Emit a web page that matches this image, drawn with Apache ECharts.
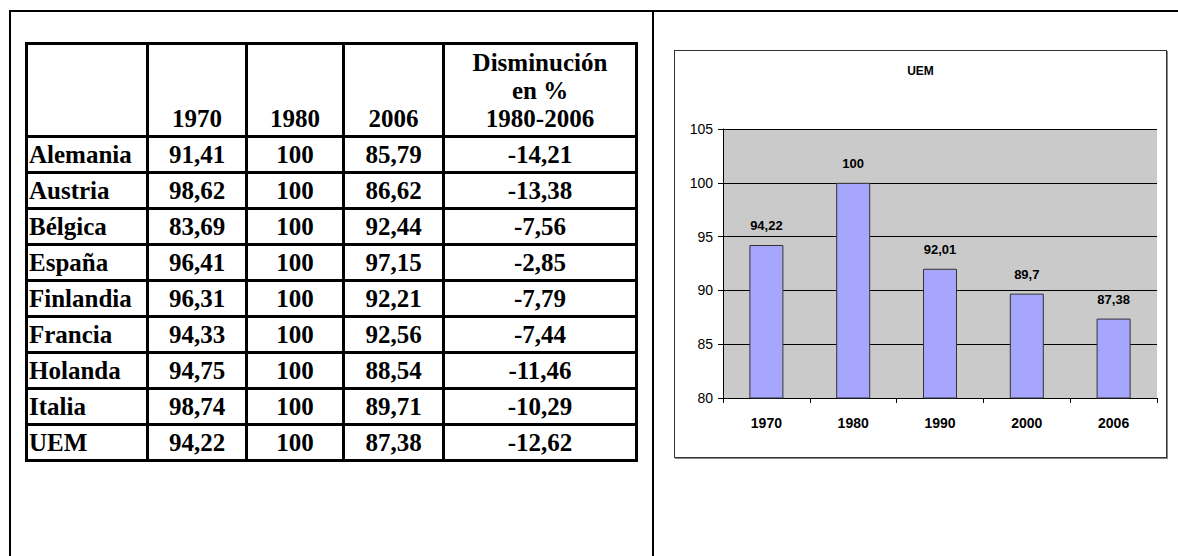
<!DOCTYPE html>
<html>
<head>
<meta charset="utf-8">
<script src="https://cdn.jsdelivr.net/npm/echarts@6/dist/echarts.min.js"></script>
<style>
  body { margin: 0; background: #fff; width: 1178px; height: 556px; overflow: hidden; position: relative; }
  #frame { position: absolute; left: 9px; top: 10px; width: 1169px; height: 546px; border-top: 2px solid #000; border-left: 2px solid #000; box-sizing: border-box; }
  #divider { position: absolute; left: 652px; top: 10px; width: 2px; height: 546px; background: #000; }
  #tabla { position: absolute; left: 25px; top: 42px; border-collapse: collapse; table-layout: fixed;
    font-family: "Liberation Serif", "Times New Roman", serif; font-weight: bold; font-size: 25px; color: #000; }
  #tabla td { border: 3px solid #000; padding: 0 3px; height: 33px; line-height: 28px; text-align: center; white-space: nowrap; }
  #tabla tr.head td { height: 88px; vertical-align: bottom; padding-bottom: 2px; }
  #tabla td.name { text-align: left; padding-left: 1px; }
  #main { position: absolute; left: 674px; top: 50px; width: 493px; height: 408px; border: 1px solid #333; box-sizing: border-box; box-shadow: 1px 1px 0 #888; }
</style>
</head>
<body>
<div id="frame"></div>
<div id="divider"></div>
<table id="tabla">
  <colgroup><col style="width:121px"><col style="width:99px"><col style="width:97px"><col style="width:100px"><col style="width:193px"></colgroup>
  <tbody id="cuerpo"></tbody>
</table>
<div id="main"></div>
<script>
  // datos de la tabla
  let paises = ['Alemania', 'Austria', 'Bélgica', 'España', 'Finlandia', 'Francia', 'Holanda', 'Italia', 'UEM'];
  let v1970 = ['91,41', '98,62', '83,69', '96,41', '96,31', '94,33', '94,75', '98,74', '94,22'];
  let v1980 = ['100', '100', '100', '100', '100', '100', '100', '100', '100'];
  let v2006 = ['85,79', '86,62', '92,44', '97,15', '92,21', '92,56', '88,54', '89,71', '87,38'];
  let disminucion = ['-14,21', '-13,38', '-7,56', '-2,85', '-7,79', '-7,44', '-11,46', '-10,29', '-12,62'];
  let cabecera = ['', '1970', '1980', '2006', 'Disminución<br>en %<br>1980-2006'];

  // datos del grafico
  let anios = ['1970', '1980', '1990', '2000', '2006'];
  let valoresUEM = [94.22, 100, 92.01, 89.7, 87.38];

  let html = '<tr class="head">' + cabecera.map(function (c) { return '<td>' + c + '</td>'; }).join('') + '</tr>';
  paises.forEach(function (p, i) {
    html += '<tr><td class="name">' + p + '</td><td>' + v1970[i] + '</td><td>' + v1980[i] +
      '</td><td>' + v2006[i] + '</td><td>' + disminucion[i] + '</td></tr>';
  });
  document.getElementById('cuerpo').innerHTML = html;

  let chart = echarts.init(document.getElementById('main'), null, { renderer: 'svg' });
  let coma = function (v) { return String(v).replace('.', ','); };

  let option = {
    animation: false,
    textStyle: { fontFamily: 'Liberation Sans, Arial, sans-serif' },
    title: {
      text: 'UEM',
      left: 'center',
      top: 9,
      textStyle: { fontSize: 12, fontWeight: 'bold', color: '#000' }
    },
    grid: {
      left: 48, right: 9, top: 78, bottom: 59,
      show: true, backgroundColor: '#CACACA', borderWidth: 0
    },
    xAxis: {
      type: 'category',
      data: anios,
      axisLine: { lineStyle: { color: '#000', width: 1 } },
      axisTick: { show: true, inside: false, length: 5, alignWithLabel: false, lineStyle: { color: '#000' } },
      axisLabel: { margin: 18, fontSize: 14, fontWeight: 'bold', color: '#000' }
    },
    yAxis: {
      type: 'value',
      min: 80, max: 105, interval: 5,
      axisLine: { show: true, lineStyle: { color: '#000', width: 1 } },
      axisTick: { show: true, length: 5, lineStyle: { color: '#000' } },
      axisLabel: { margin: 10, fontSize: 14, color: '#000' },
      splitLine: { show: true, lineStyle: { color: '#000', width: 1 } }
    },
    series: [{
      type: 'bar',
      data: valoresUEM,
      barWidth: 34,
      itemStyle: { color: '#A6A6FF', borderColor: '#333', borderWidth: 1 },
      label: {
        show: true, position: 'top', distance: 13,
        fontSize: 13, fontWeight: 'bold', color: '#000',
        formatter: function (p) { return coma(p.value); }
      }
    }]
  };
  chart.setOption(option);
</script>
</body>
</html>
